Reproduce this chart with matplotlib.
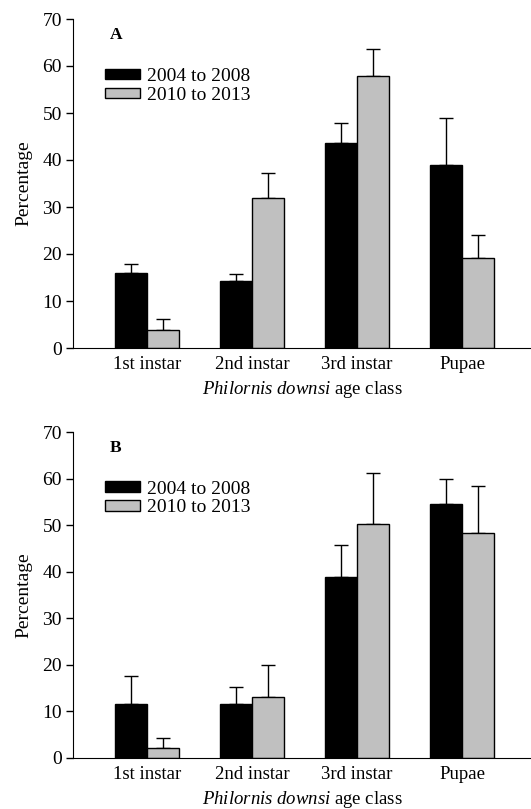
import matplotlib
matplotlib.use("Agg")
import numpy as np
import matplotlib.pyplot as plt

# data
categories = ["1st instar", "2nd instar", "3rd instar", "Pupae"]
series_labels = ["2004 to 2008", "2010 to 2013"]

a_early = [16.0, 14.2, 43.7, 38.9]
a_early_err = [1.9, 1.6, 4.2, 10.0]
a_late = [3.9, 31.9, 57.8, 19.2]
a_late_err = [2.2, 5.3, 5.8, 4.9]

b_early = [11.7, 11.6, 38.8, 54.6]
b_early_err = [5.9, 3.6, 6.9, 5.4]
b_late = [2.1, 13.2, 50.2, 48.4]
b_late_err = [2.2, 6.8, 10.9, 10.0]

yticks = [0, 10, 20, 30, 40, 50, 60, 70]

plt.rcParams["font.family"] = "Liberation Serif"
plt.rcParams["font.size"] = 13.5
plt.rcParams["mathtext.fontset"] = "custom"
plt.rcParams["mathtext.rm"] = "Liberation Serif"
plt.rcParams["mathtext.it"] = "Liberation Serif:italic"

fig = plt.figure(figsize=(5.31, 8.09), dpi=100)
W, H = 531, 809


def panel(rect, early, early_err, late, late_err, letter):
    ax = fig.add_axes(rect)
    x = np.arange(len(categories))
    w = 0.305
    ax.bar(x - w / 2, early, w, color="black", edgecolor="black", linewidth=1,
           label=series_labels[0], zorder=2)
    ax.bar(x + w / 2, late, w, color="#c0c0c0", edgecolor="black", linewidth=1,
           label=series_labels[1], zorder=2)
    # upper error bars only
    ax.errorbar(x - w / 2, early, yerr=[np.zeros(4), early_err], fmt="none",
                ecolor="black", elinewidth=1, capsize=5, capthick=1, zorder=1)
    ax.errorbar(x + w / 2, late, yerr=[np.zeros(4), late_err], fmt="none",
                ecolor="black", elinewidth=1, capsize=5, capthick=1, zorder=1)
    ax.set_xlim(-0.705, 3.657)
    ax.set_ylim(0, 70)
    ax.set_yticks(yticks)
    ax.spines["top"].set_visible(False)
    ax.spines["right"].set_visible(False)
    ax.tick_params(axis="y", direction="out", length=5, width=1, pad=3,
                   labelsize=14)
    ax.tick_params(axis="x", length=0, pad=6, labelsize=13.5)
    ax.set_xticks(x)
    ax.set_xticklabels(categories)
    ax.set_ylabel("Percentage", labelpad=7, fontsize=14)
    ax.set_xlabel(r"$\mathit{Philornis\ downsi}$ age class", labelpad=4,
                  fontsize=13.5)
    ax.text(0.08, 0.975, letter, transform=ax.transAxes, fontweight="bold",
            va="top", ha="left", fontsize=12.5)
    ax.legend(loc="upper left", bbox_to_anchor=(0.052, 0.875), frameon=False,
              handlelength=1.8, handleheight=0.45, handletextpad=0.4,
              labelspacing=0.1, borderaxespad=0, fontsize=14)
    return ax


panel([73 / W, 1 - 348 / H, (W - 73) / W, (348 - 19) / H],
      a_early, a_early_err, a_late, a_late_err, "A")
panel([73 / W, 1 - 758 / H, (W - 73) / W, (758 - 432) / H],
      b_early, b_early_err, b_late, b_late_err, "B")

plt.savefig("out.png", dpi=100)
plt.close()
